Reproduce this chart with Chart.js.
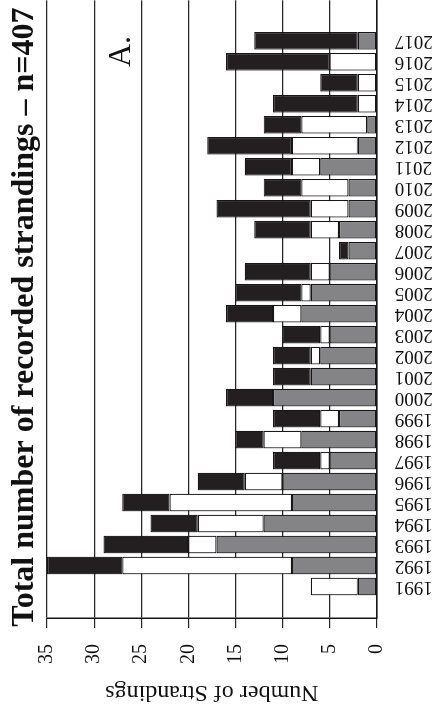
<!DOCTYPE html>
<html>
<head>
<meta charset="utf-8">
<title>Recorded strandings</title>
<script src="https://cdn.jsdelivr.net/npm/chart.js@4.4.1/dist/chart.umd.min.js"></script>
<style>
  html, body { margin: 0; padding: 0; background: #fff; overflow: hidden; }
  /* the figure is printed turned a quarter turn to the left */
  #turned {
    position: absolute; left: 0; top: 0;
    width: 708px; height: 434px;
    transform-origin: 0 0;
    transform: translateY(708px) rotate(-90deg);
  }
</style>
</head>
<body>
<div id="turned"><canvas id="strandings" width="708" height="434"></canvas></div>
<script>
// DATA VALUES
var years = [1991, 1992, 1993, 1994, 1995, 1996, 1997, 1998, 1999, 2000,
             2001, 2002, 2003, 2004, 2005, 2006, 2007, 2008, 2009, 2010,
             2011, 2012, 2013, 2014, 2015, 2016, 2017];
var grayCounts  = [2, 9, 17, 12, 9, 10, 5, 8, 4, 11, 7, 6, 5, 8, 7, 5, 3, 4, 3, 3, 6, 2, 1, 0, 0, 0, 2];
var whiteCounts = [5, 18, 3, 7, 13, 4, 1, 4, 2, 0, 0, 1, 1, 3, 1, 2, 0, 3, 4, 5, 3, 7, 7, 2, 2, 5, 0];
var blackCounts = [0, 8, 9, 5, 5, 5, 5, 3, 5, 5, 4, 4, 4, 5, 7, 7, 1, 6, 10, 4, 5, 9, 4, 9, 4, 11, 11];
var valueTicks = [0, 5, 10, 15, 20, 25, 30, 35];

var titleText = "Total number of recorded strandings \u2013 n=407";
var panelLetter = "A.";
var serif = "'Liberation Serif', 'DejaVu Serif', serif";

// zero segments are left out so no empty outline is drawn
function toPoints(counts) {
    return years.map(function (yr, i) {
        return { x: yr, y: counts[i] || null };
    });
}

function segment(counts, fill) {
    return {
        data: toPoints(counts),
        backgroundColor: fill,
        borderColor: "#161616",
        borderWidth: 1.2,
        borderSkipped: false,
        categoryPercentage: 1,
        barPercentage: 0.84
    };
}

// title and panel letter, drawn on top of the chart
const figureText = {
    id: "figureText",
    afterDraw: function (chart) {
        var ctx = chart.ctx;
        var area = chart.chartArea;
        ctx.save();
        ctx.fillStyle = "#111";
        ctx.textBaseline = "alphabetic";
        ctx.font = "bold 32px " + serif;
        ctx.textAlign = "center";
        ctx.fillText(titleText, area.left + area.width / 2 - 8, 33);
        ctx.font = "32px " + serif;
        ctx.textAlign = "left";
        ctx.fillText(panelLetter, area.left + 551, area.top + 83);
        ctx.restore();
    }
};

const config = {
    type: "bar",
    data: {
        datasets: [
            segment(grayCounts, "#848486"),
            segment(whiteCounts, "#ffffff"),
            segment(blackCounts, "#231f20")
        ]
    },
    options: {
        responsive: false,
        animation: false,
        devicePixelRatio: 1,
        layout: {
            padding: { top: 47, right: 0, bottom: 0, left: 0 }
        },
        plugins: {
            legend: { display: false },
            tooltip: { enabled: false }
        },
        scales: {
            x: {
                type: "linear",
                stacked: true,
                min: 1989.5,
                max: 2018.93,
                offset: false,
                afterBuildTicks: function (scale) {
                    scale.ticks = years.map(function (yr) { return { value: yr }; });
                },
                afterFit: function (scale) { scale.height = 57.3; },
                grid: { display: false, drawTicks: false },
                border: { display: true, color: "#161616", width: 1.5 },
                ticks: {
                    autoSkip: false,
                    minRotation: 90,
                    maxRotation: 90,
                    padding: 18,
                    color: "#111",
                    font: { family: serif, size: 19 },
                    callback: function (v) { return String(v); }
                }
            },
            y: {
                stacked: true,
                min: 0,
                max: 35,
                afterBuildTicks: function (scale) {
                    scale.ticks = valueTicks.map(function (v) { return { value: v }; });
                },
                afterFit: function (scale) { scale.width = 90; },
                grid: { color: "#262626", lineWidth: 1.2, tickLength: 10, drawTicks: true },
                border: { display: true, color: "#161616", width: 1.5 },
                ticks: {
                    padding: 16,
                    color: "#111",
                    font: { family: serif, size: 20 }
                },
                title: {
                    display: true,
                    text: "Number of Strandings",
                    color: "#111",
                    padding: { top: 1, bottom: 0 },
                    font: { family: serif, size: 24 }
                }
            }
        }
    },
    plugins: [figureText]
};

const strandingsChart = new Chart("strandings", config);
</script>
</body>
</html>
